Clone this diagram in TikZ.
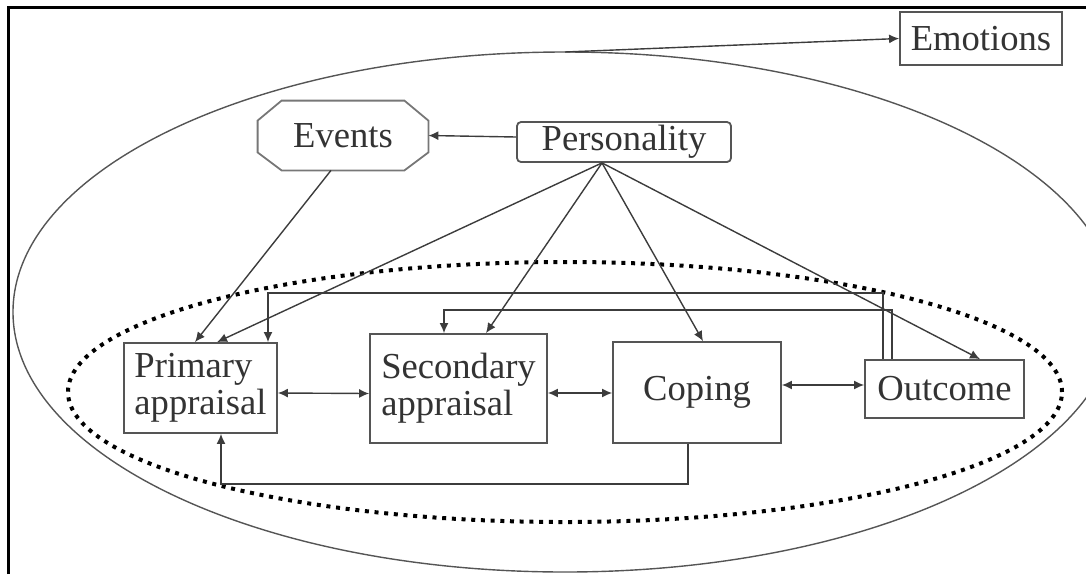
\documentclass[tikz,border=0pt]{standalone}
\usepackage{fontspec}
\setmainfont{Liberation Serif}
\usetikzlibrary{arrows.meta}

\definecolor{txt}{HTML}{333333}
\definecolor{edge}{HTML}{555555}
\definecolor{wire}{HTML}{3C3C3C}

\begin{document}
\begin{tikzpicture}[x=0.5pt, y=-0.5pt,
    every node/.style={font=\fontsize{18.3pt}{18.5pt}\selectfont, text=txt, inner sep=0pt},
    box/.style={draw=edge, line width=0.9pt},
    link/.style={draw=wire, line width=0.7pt},
    arr/.style={link, -{Latex[length=5pt,width=4.5pt]}},
    twoway/.style={link, {Latex[length=5pt,width=4.5pt]}-{Latex[length=5pt,width=4.5pt]}}]

    % page size and frame
    \useasboundingbox (0,0) rectangle (1086,574);
    \clip (0,0) rectangle (1086,574);
    \draw[black, line width=1.5pt] (8,574) -- (8,7) -- (1086,7);

    % outer ellipse and dotted inner ellipse
    \draw[edge, line width=0.7pt] (565,312) ellipse [x radius=276pt, y radius=130pt];
    \draw[black, line width=2pt, dash pattern=on 2pt off 2.85pt] (565,392) ellipse [x radius=248.5pt, y radius=65pt];
    \coordinate (otop) at (565,52);

    % top row
    \node[box, minimum width=81pt, minimum height=26.5pt] (emo) at (981,38.5) {Emotions};
    \node[minimum width=85pt, minimum height=34.5pt] (ev) at (343,135.5) {Events};
    \draw[box, edge!80] ([xshift=12pt]ev.north west) -- ([xshift=-12pt]ev.north east)
        -- ([yshift=-10pt]ev.north east) -- ([yshift=9pt]ev.south east)
        -- ([xshift=-12pt]ev.south east) -- ([xshift=12pt]ev.south west)
        -- ([yshift=9pt]ev.south west) -- ([yshift=-10pt]ev.north west) -- cycle;
    \node[box, rounded corners=2pt, minimum width=107pt, minimum height=20pt] (per) at (624,142) {Personality};

    % appraisal chain
    \node[box, minimum width=76.5pt, minimum height=45pt, align=left] (prim) at (200.5,388) {Primary\\appraisal};
    \node[box, minimum width=88.5pt, minimum height=54.5pt, align=left] (sec) at (458.5,388.5) {Secondary\\appraisal};
    \node[box, minimum width=84pt, minimum height=50.5pt] (cop) at (697,392.5) {Coping};
    \node[box, minimum width=79.5pt, minimum height=29pt] (out) at (944.5,389) {Outcome};

    % arrows from the top
    \draw[arr] (otop) -- (emo.west);
    \draw[arr] ([yshift=2.5pt]per.west) -- (ev.east);
    \draw[arr] ([xshift=-6pt]ev.south) -- ([xshift=-2.75pt]prim.north);
    \draw[arr] ([xshift=-11pt]per.south) -- ([xshift=8.25pt]prim.north);
    \draw[arr] ([xshift=-11pt]per.south) -- ([xshift=13.75pt]sec.north);
    \draw[arr] ([xshift=-11pt]per.south) -- ([xshift=3pt]cop.north);
    \draw[arr] ([xshift=-11pt]per.south) -- ([xshift=17.75pt]out.north);

    % two-way links along the chain
    \draw[twoway] ([yshift=-2.5pt]prim.east) -- ([yshift=-2.5pt]sec.west);
    \draw[twoway] ([yshift=-2.25pt]sec.east) -- ([yshift=-0.25pt]cop.west);
    \draw[twoway] ([yshift=3.75pt]cop.east) -- ([yshift=2pt]out.west);

    % feedback loops
    \draw[arr] ([xshift=-30.75pt]out.north) -- ++(0,-66) -| ([xshift=33.75pt]prim.north);
    \draw[arr] ([xshift=-26.25pt]out.north) -- ++(0,-49) -| ([xshift=-7.25pt]sec.north);
    \draw[arr] ([xshift=-4.5pt]cop.south) -- ++(0,40) -| ([xshift=10.25pt]prim.south);

\end{tikzpicture}
\end{document}
